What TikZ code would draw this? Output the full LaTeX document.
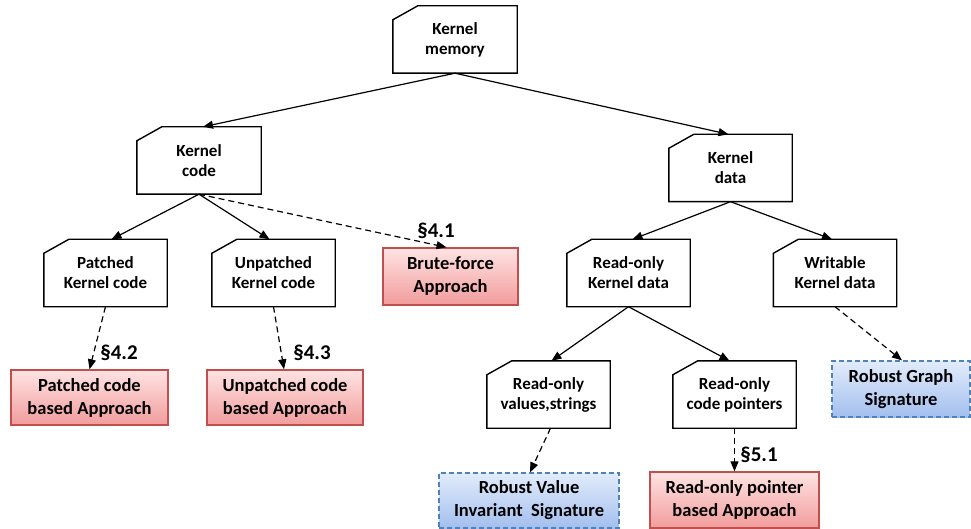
\documentclass[tikz,border=0pt]{standalone}
\usepackage{fontspec}
\setmainfont{Carlito}
\usetikzlibrary{arrows.meta}
\definecolor{redline}{HTML}{C0504D}
\definecolor{redtop}{HTML}{FFE3E3}
\definecolor{redbot}{HTML}{F29C9C}
\definecolor{blueline}{HTML}{4F81BD}
\definecolor{bluetop}{HTML}{E2ECFB}
\definecolor{bluebot}{HTML}{A3BFEE}
\tikzset{
  cardbox/.style={minimum width=123pt, minimum height=67pt, inner sep=0pt, align=center,
    font=\fontsize{17}{20}\selectfont\bfseries},
  redbox/.style={draw=redline, line width=1.4pt, top color=redtop, bottom color=redbot,
    minimum height=56pt, inner sep=0pt, align=center, font=\fontsize{18.5}{23}\selectfont\bfseries},
  bluebox/.style={draw=blueline, line width=1.3pt, dash pattern=on 5pt off 3pt, top color=bluetop, bottom color=bluebot,
    minimum height=56pt, inner sep=0pt, align=center, font=\fontsize{18.5}{23}\selectfont\bfseries},
  link/.style={line width=1.2pt, -{Triangle[length=10pt,width=8pt]}},
  dlink/.style={link, dash pattern=on 6pt off 4pt},
  seclabel/.style={font=\fontsize{21}{24}\selectfont\bfseries, inner sep=0pt}
}
\newcommand{\cardoutline}[1]{%
  \draw[line width=1.4pt, line join=miter] ([yshift=-14pt]#1.north west) -- ([xshift=25pt]#1.north west) -- (#1.north east) -- (#1.south east) -- (#1.south west) -- cycle;}
\begin{document}
\begin{tikzpicture}[x=1pt,y=-1pt]
\useasboundingbox (0,0) rectangle (971,529);
% card nodes
\node[cardbox, minimum width=124pt] (km) at (455,39.5) {Kernel\\memory};
\node[cardbox, minimum width=124pt] (kc) at (199,160.5) {Kernel\\code};
\node[cardbox] (kd) at (730.5,168) {Kernel\\data};
\node[cardbox] (pkc) at (105.5,273) {Patched\\Kernel code};
\node[cardbox] (ukc) at (273.5,273) {Unpatched\\Kernel code};
\node[cardbox] (rokd) at (628.5,273) {Read-only\\Kernel data};
\node[cardbox] (wkd) at (835,273) {Writable\\Kernel data};
\node[cardbox] (rvs) at (548.5,394.5) {Read-only\\values,strings};
\node[cardbox] (rcp) at (734.5,394.5) {Read-only\\code pointers};
\foreach \n in {km,kc,kd,pkc,ukc,rokd,wkd,rvs,rcp} {\cardoutline{\n}}
% approach nodes
\node[redbox, minimum width=135pt, minimum height=57pt] (bf) at (450.5,276.5) {Brute-force\\Approach};
\node[redbox, minimum width=157pt, minimum height=55pt] (pca) at (89.5,397.5) {Patched code\\based Approach};
\node[redbox, minimum width=156pt, minimum height=55pt] (uca) at (285,397.5) {Unpatched code\\based Approach};
\node[redbox, minimum width=169pt] (rpa) at (734.5,500) {Read-only pointer\\based Approach};
\node[bluebox, minimum width=138pt] (rgs) at (901,389) {Robust Graph\\Signature};
\node[bluebox, minimum width=180pt, minimum height=55pt] (rvis) at (529,500.5) {Robust Value\\Invariant\ \ Signature};
% solid links
\draw[link] (km.south) -- ([xshift=4pt]kc.north);
\draw[link] (km.south) -- ([xshift=-2pt]kd.north);
\draw[link] (kc.south) -- ([xshift=6pt]pkc.north);
\draw[link] (kc.south) -- ([xshift=-4pt]ukc.north);
\draw[link] (kd.south) -- ([xshift=4pt]rokd.north);
\draw[link] (kd.south) -- ([xshift=-3pt]wkd.north);
\draw[link] (rokd.south) -- ([xshift=3pt]rvs.north);
\draw[link] (rokd.south) -- ([xshift=-5pt]rcp.north);
% dashed links
\draw[dlink] (kc.south) -- ([xshift=-4pt]bf.north);
\draw[dlink] (pkc.south) -- ([xshift=0pt]pca.north);
\draw[dlink] (ukc.south) -- ([xshift=-1pt]uca.north);
\draw[dlink] (wkd.south) -- ([xshift=1pt]rgs.north);
\draw[dlink] ([xshift=2pt]rvs.south) -- ([xshift=1pt]rvis.north);
\draw[dlink] (rcp.south) -- (rpa.north);
% section labels
\node[seclabel] (s41) at (436,231) {§4.1};
\node[seclabel] (s42) at (119,353) {§4.2};
\node[seclabel] (s43) at (312,353) {§4.3};
\node[seclabel] (s51) at (759,455) {§5.1};
\end{tikzpicture}
\end{document}
